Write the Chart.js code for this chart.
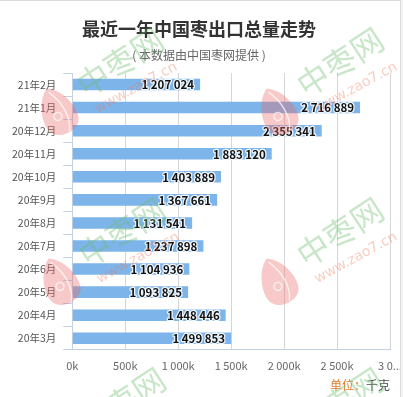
<!DOCTYPE html>
<html>
<head>
<meta charset="utf-8">
<script src="https://cdn.jsdelivr.net/npm/chart.js@4"></script>
<style>
html,body{margin:0;padding:0;background:#fff;}
#wrap{position:relative;width:403px;height:397px;}
</style>
</head>
<body>
<div id="wrap"><canvas id="c" width="403" height="397"></canvas></div>
<script>
const categories = ['21年2月','21年1月','20年12月','20年11月','20年10月','20年9月','20年8月','20年7月','20年6月','20年5月','20年4月','20年3月'];
const exportValues = [1207024,2716889,2355341,1883120,1403889,1367661,1131541,1237898,1104936,1093825,1448446,1499853];
const xTickMax = 3000000;
const xTickStep = 500000;
const titleText = '最近一年中国枣出口总量走势';
const subtitleText = '( 本数据由中国枣网提供 )';
const unitLabel = '单位：';
const unitValue = '千克';

const CJK = '"Noto Sans CJK SC", "Noto Sans", sans-serif';
function spaced(n){ return String(Math.round(n)).replace(/\B(?=(\d{3})+(?!\d))/g,' '); }

const frame = {
  id:'frame',
  beforeDraw(chart){
    const ctx = chart.ctx;
    ctx.save();
    ctx.fillStyle = '#fff';
    ctx.fillRect(0,0,chart.width,chart.height);
    ctx.restore();
  },
  afterDraw(chart){
    const ctx = chart.ctx;
    ctx.save();
    ctx.fillStyle = '#f3f3f3';
    ctx.fillRect(401,0,2,chart.height);
    ctx.strokeStyle = '#dcdcdc';
    ctx.lineWidth = 1;
    ctx.beginPath();
    ctx.moveTo(400.5,0); ctx.lineTo(400.5,chart.height);
    ctx.moveTo(0,0.5); ctx.lineTo(400,0.5);
    ctx.stroke();
    ctx.restore();
  }
};

const barLabels = {
  id:'barLabels',
  afterDatasetsDraw(chart){
    const ctx = chart.ctx;
    const meta = chart.getDatasetMeta(0);
    ctx.save();
    ctx.font = 'bold 11.5px ' + CJK;
    ctx.textAlign = 'right';
    ctx.textBaseline = 'middle';
    ctx.lineJoin = 'round';
    meta.data.forEach((bar,i)=>{
      const t = spaced(exportValues[i]);
      const x = bar.x - 6, y = bar.y + 0.5;
      ctx.strokeStyle = 'rgba(255,255,255,0.85)';
      ctx.lineWidth = 2.5;
      ctx.strokeText(t,x,y);
      ctx.fillStyle = '#111';
      ctx.fillText(t,x,y);
    });
    ctx.restore();
  }
};

const extras = {
  id:'extras',
  afterDraw(chart){
    const ctx = chart.ctx;
    ctx.save();
    // unit note
    ctx.font = '12px ' + CJK;
    ctx.textBaseline = 'middle';
    ctx.textAlign = 'right';
    const right = 390;
    const vw = ctx.measureText(unitValue).width;
    ctx.fillStyle = '#4a4a4a';
    ctx.fillText(unitValue, right, 385);
    ctx.fillStyle = '#e07b2c';
    ctx.fillText(unitLabel, right - vw, 385);
    // watermarks
    const centers = [[120,62],[340,62],[122,232],[340,232],[122,402],[340,402]];
    centers.forEach(([cx,cy])=>{
      // logo
      ctx.save();
      ctx.translate(cx-62, cy+50);
      ctx.rotate(-0.45);
      ctx.fillStyle = 'rgba(232,105,105,0.36)';
      ctx.beginPath();
      ctx.moveTo(0,-26);
      ctx.bezierCurveTo(14,-18,20,4,16,14);
      ctx.bezierCurveTo(12,26,-12,26,-16,14);
      ctx.bezierCurveTo(-20,4,-14,-18,0,-26);
      ctx.fill();
      ctx.strokeStyle = 'rgba(255,255,255,0.7)';
      ctx.lineWidth = 1.5;
      ctx.beginPath();
      ctx.moveTo(0,-22);
      ctx.bezierCurveTo(8,-8,10,10,2,22);
      ctx.stroke();
      ctx.beginPath();
      ctx.arc(-2,4,4,0,Math.PI*2);
      ctx.stroke();
      ctx.restore();
      // green brand text
      ctx.save();
      ctx.translate(cx, cy);
      ctx.rotate(-0.58);
      ctx.font = '32px ' + CJK;
      ctx.textAlign = 'center';
      ctx.textBaseline = 'middle';
      ctx.fillStyle = 'rgba(110,190,110,0.38)';
      ctx.fillText('中枣网',0,0);
      ctx.restore();
      // url
      ctx.save();
      ctx.translate(cx+16, cy+26);
      ctx.rotate(-0.5);
      ctx.font = '14px "DejaVu Sans", sans-serif';
      ctx.textAlign = 'center';
      ctx.textBaseline = 'middle';
      ctx.fillStyle = 'rgba(240,120,90,0.38)';
      ctx.fillText('www.zao7.cn',0,0);
      ctx.restore();
    });
    ctx.restore();
  }
};

new Chart(document.getElementById('c'), {
  type:'bar',
  data:{
    labels: categories,
    datasets:[{
      data: exportValues,
      backgroundColor:'#7db4ea',
      borderWidth:0,
      barPercentage:0.5,
      categoryPercentage:1
    }]
  },
  options:{
    indexAxis:'y',
    responsive:false,
    animation:false,
    devicePixelRatio:1,
    layout:{padding:{left:5,right:10,top:0,bottom:16}},
    plugins:{
      legend:{display:false},
      tooltip:{enabled:false},
      title:{display:true,text:titleText,color:'#333',font:{family:CJK,size:18,weight:'bold'},padding:{top:18,bottom:0}},
      subtitle:{display:true,text:subtitleText,color:'#666',font:{family:CJK,size:12},padding:{top:9,bottom:10}}
    },
    scales:{
      x:{
        min:0,max:xTickMax,
        afterFit(scale){ scale.paddingRight = 13; },
        grid:{color:'#d6d6d6',drawTicks:false,lineWidth:1},
        border:{color:'#c3d1e2'},
        ticks:{stepSize:xTickStep,color:'#666',padding:9,font:{family:CJK,size:11},maxRotation:0,autoSkip:false,
          callback:(v)=> v===xTickMax ? '3 0...' : spaced(v/1000)+'k'}
      },
      y:{
        grid:{display:true,drawOnChartArea:false,offset:true,tickLength:9,color:'#c3d1e2'},
        border:{color:'#c3d1e2'},
        ticks:{color:'#555',padding:7,font:{family:CJK,size:10.5},autoSkip:false}
      }
    }
  },
  plugins:[frame,barLabels,extras]
});
</script>
</body>
</html>
